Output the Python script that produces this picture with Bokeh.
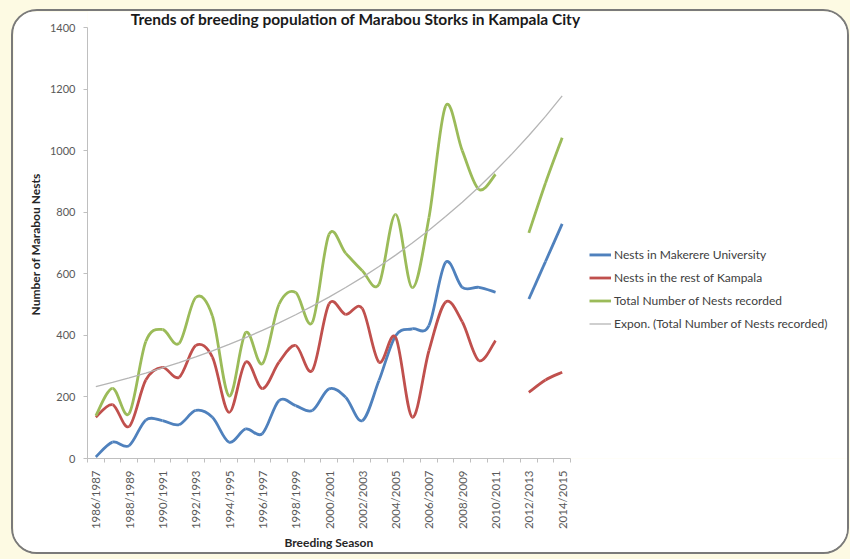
import numpy as np
from bokeh.plotting import figure
from bokeh.layouts import column
from bokeh.models import (Range1d, FixedTicker, Legend, LegendItem, Label,
                          Title, ColumnDataSource)
from bokeh.embed import file_html
from bokeh.resources import INLINE

# ---------------- data ----------------
seasons = ["1986/1987", "1987/1988", "1988/1989", "1989/1990", "1990/1991",
           "1991/1992", "1992/1993", "1993/1994", "1994/1995", "1995/1996",
           "1996/1997", "1997/1998", "1998/1999", "1999/2000", "2000/2001",
           "2001/2002", "2002/2003", "2003/2004", "2004/2005", "2005/2006",
           "2006/2007", "2007/2008", "2008/2009", "2009/2010", "2010/2011",
           "2011/2012", "2012/2013", "2013/2014", "2014/2015"]

makerere = [5, 53, 42, 125, 123, 110, 156, 134, 53, 96,
            81, 188, 172, 156, 226, 199, 123, 253, 399, 421,
            432, 637, 556, 556, 540, None, 518, 640, 762]

rest_kampala = [134, 175, 104, 255, 296, 264, 367, 329, 150, 313,
                227, 313, 367, 286, 502, 468, 487, 313, 394, 134,
                350, 508, 444, 318, 383, None, 215, 255, 280]

total = [139, 228, 146, 380, 419, 374, 523, 463, 203, 409,
         308, 501, 539, 442, 728, 667, 610, 566, 793, 555,
         782, 1145, 1000, 874, 923, None, 733, 895, 1042]

y_ticks = [0, 200, 400, 600, 800, 1000, 1200, 1400]

series_names = ["Nests in Makerere University",
                "Nests in the rest of Kampala",
                "Total Number of Nests recorded"]
trend_name = "Expon. (Total Number of Nests recorded)"
title_text = "Trends of breeding population of Marabou Storks in Kampala City"
x_title = "Breeding Season"
y_title = "Number of Marabou Nests"

colors = ["#4F81BD", "#C0504D", "#9BBB59"]
FONT = "Lato"


def smooth_source(vals):
    """Bezier segments (Catmull-Rom style, like Excel's smoothed line)."""
    runs, cur = [], []
    for i, v in enumerate(vals):
        if v is None:
            if cur:
                runs.append(cur)
            cur = []
        else:
            cur.append((i, v))
    if cur:
        runs.append(cur)
    d = dict(x0=[], y0=[], x1=[], y1=[], cx0=[], cy0=[], cx1=[], cy1=[])
    for run in runs:
        m = len(run)
        for k in range(m - 1):
            p0 = run[max(k - 1, 0)]
            p1 = run[k]
            p2 = run[k + 1]
            p3 = run[min(k + 2, m - 1)]
            d["x0"].append(p1[0]); d["y0"].append(p1[1])
            d["x1"].append(p2[0]); d["y1"].append(p2[1])
            d["cx0"].append(p1[0] + (p2[0] - p0[0]) / 6.0)
            d["cy0"].append(p1[1] + (p2[1] - p0[1]) / 6.0)
            d["cx1"].append(p2[0] - (p3[0] - p1[0]) / 6.0)
            d["cy1"].append(p2[1] - (p3[1] - p1[1]) / 6.0)
    return ColumnDataSource(d)


n = len(seasons)

# layout (pixels): canvas 834x541, plot area of the axes 483x431
W, H = 834, 541
LEFT, BOTTOM = 74, 94
AXIS_W, AXIS_H = 483, 431
px_per_cat = AXIS_W / n
px_per_unit = AXIS_H / 1400.0
x_end = -0.5 + (W - LEFT) / px_per_cat
y_end = (H - BOTTOM) / px_per_unit

p = figure(width=W, height=H,
           x_range=Range1d(-0.5, x_end), y_range=Range1d(0, y_end),
           output_backend="svg", toolbar_location=None, title=None,
           min_border_left=LEFT, min_border_right=0,
           min_border_top=0, min_border_bottom=BOTTOM)
p.margin = (11, 0, 0, 13)
p.styles = {"outline": "2.5px solid #7A7A7A", "border-radius": "24px",
            "overflow": "hidden"}

p.border_fill_color = "white"
p.background_fill_color = "white"
p.outline_line_color = None
p.xgrid.visible = False
p.ygrid.visible = False

renderers = []
for vals, col in zip([makerere, rest_kampala, total], colors):
    src = smooth_source(vals)
    r = p.bezier(x0="x0", y0="y0", x1="x1", y1="y1",
                 cx0="cx0", cy0="cy0", cx1="cx1", cy1="cy1",
                 source=src, line_color=col, line_width=2.8)
    renderers.append(r)

# exponential trendline fitted to the total series (as Excel does)
idx = [i for i, v in enumerate(total) if v is not None]
b, a = np.polyfit(np.array(idx) + 1.0, np.log([total[i] for i in idx]), 1)
tx = np.arange(n)
ty = np.exp(a + b * (tx + 1.0))
tr = p.line(tx, ty, line_color="#B5B5B5", line_width=1.3)

legend = Legend(items=[LegendItem(label=series_names[0], renderers=[renderers[0]]),
                       LegendItem(label=series_names[1], renderers=[renderers[1]]),
                       LegendItem(label=series_names[2], renderers=[renderers[2]]),
                       LegendItem(label=trend_name, renderers=[tr])],
                location=(497, 122), orientation="vertical",
                background_fill_alpha=0, border_line_alpha=0,
                glyph_width=22, glyph_height=15, label_height=15,
                spacing=8, padding=5, margin=0, label_standoff=3,
                label_text_font=FONT, label_text_font_size="12px",
                label_text_color="#404040")
p.add_layout(legend, "center")

# title, placed in the space above the value axis
p.add_layout(Label(x=15.6, y=1400 + 8.5 / px_per_unit, text=title_text,
                   text_align="center", text_baseline="middle",
                   text_font=FONT, text_font_style="bold",
                   text_font_size="15.5px", text_color="#1A1A1A"))

# axes
p.yaxis.ticker = FixedTicker(ticks=y_ticks)
p.yaxis.bounds = (0, 1400)
p.xaxis.ticker = FixedTicker(ticks=list(range(0, n, 2)),
                             minor_ticks=[i - 0.5 for i in range(n + 1)])
p.xaxis.bounds = (-0.5, n - 0.5)
p.xaxis.major_label_overrides = {i: seasons[i] for i in range(0, n, 2)}
p.xaxis.major_label_orientation = np.pi / 2

# axis titles, centred on the axes themselves
p.add_layout(Title(text=x_title, align="left", offset=197, standoff=0,
                   text_font=FONT, text_font_style="bold",
                   text_font_size="12px", text_color="#262626"), "below")
p.add_layout(Title(text=y_title, align="left", offset=143, standoff=8,
                   text_font=FONT, text_font_style="bold",
                   text_font_size="12px", text_color="#262626"), "left")

for ax in (p.xaxis[0], p.yaxis[0]):
    ax.axis_line_color = "#BFBFBF"
    ax.axis_line_width = 1
    ax.major_tick_line_color = "#BFBFBF"
    ax.minor_tick_line_color = "#BFBFBF"
    ax.major_label_text_font = FONT
    ax.major_label_text_color = "#595959"

p.yaxis.major_tick_out = 4
p.yaxis.major_tick_in = 0
p.yaxis.minor_tick_out = 0
p.yaxis.minor_tick_in = 0
p.yaxis.major_label_text_font_size = "11px"
p.yaxis.major_label_standoff = 8

p.xaxis.major_tick_out = 0
p.xaxis.major_tick_in = 0
p.xaxis.minor_tick_out = 4
p.xaxis.minor_tick_in = 0
p.xaxis.major_label_text_font_size = "11.5px"
p.xaxis.major_label_standoff = 8

page = column(p, styles={"background-color": "#FDFAE3",
                         "min-width": "850px", "min-height": "559px"})

open("out.html", "w").write(file_html(page, INLINE))
